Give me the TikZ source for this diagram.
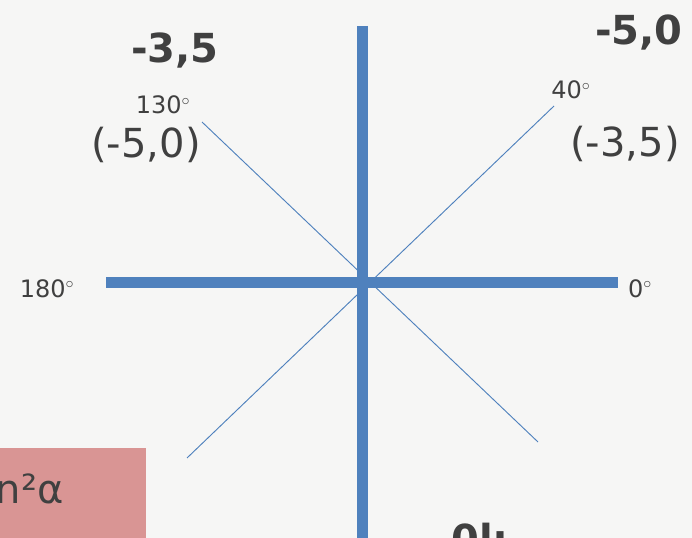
\documentclass[tikz,border=0pt]{standalone}
\usepackage{fontspec}
\setmainfont{DejaVu Sans}
\definecolor{AxBlue}{HTML}{4F81BD}
\definecolor{AxInk}{HTML}{404040}
\definecolor{AxPaper}{HTML}{F6F6F5}
\definecolor{AxRose}{HTML}{D99594}
\usetikzlibrary{positioning,calc}

\begin{document}
\begin{tikzpicture}[x=0.75pt,y=-0.75pt,
    axis/.style={draw=AxBlue,line width=8.25pt},
    ray/.style={draw=AxBlue,line width=0.7pt},
    ang/.style={text=AxInk,inner sep=0pt,anchor=base,
                font=\fontsize{18}{20}\selectfont},
    pair/.style={text=AxInk,inner sep=0pt,anchor=base,
                 font=\fontsize{30}{34}\selectfont},
    pairb/.style={pair,font=\fontsize{30}{34}\selectfont\bfseries}]
  \useasboundingbox (0,0) rectangle (692,538);
  \fill[AxPaper] (0,0) rectangle (692,538);

  % axes and the two rays
  \coordinate (top) at (362,26);
  \coordinate (bottom) at (362,545);
  \coordinate (left) at (106,282);
  \coordinate (right) at (618,282);
  \coordinate (nw) at (202,122);
  \coordinate (se) at (538,442);
  \coordinate (ne) at (554,106);
  \coordinate (sw) at (187,458);
  \draw[ray] (nw) -- (se);
  \draw[ray] (ne) -- (sw);
  \draw[axis] (top) -- (bottom);
  \draw[axis] (left) -- (right);

  % angle labels
  \node[ang] (a130) at (163,114) {130$^{\circ}$};
  \node[ang] (a40) at (571,99) {40$^{\circ}$};
  \node[ang] (a180) at (47,297) {180$^{\circ}$};
  \node[ang] (a0) at (640,297) {0$^{\circ}$};

  % point labels
  \node[pairb] (hiL) at (175,63) {-3,5};
  \node[pairb] (hiR) at (639,45) {-5,0};
  \node[pair] (ptL) at (146,158) {(-5,0)};
  \node[pair] (ptR) at (625,157) {(-3,5)};

  % cut-off box and text at the bottom
  \fill[AxRose] (0,448) rectangle (146,538);
  \node[pair,anchor=base east] (formula) at (64,503) {n²α};
  \node[pairb,anchor=base west] (cut) at (451,553) {0l:};
\end{tikzpicture}
\end{document}
